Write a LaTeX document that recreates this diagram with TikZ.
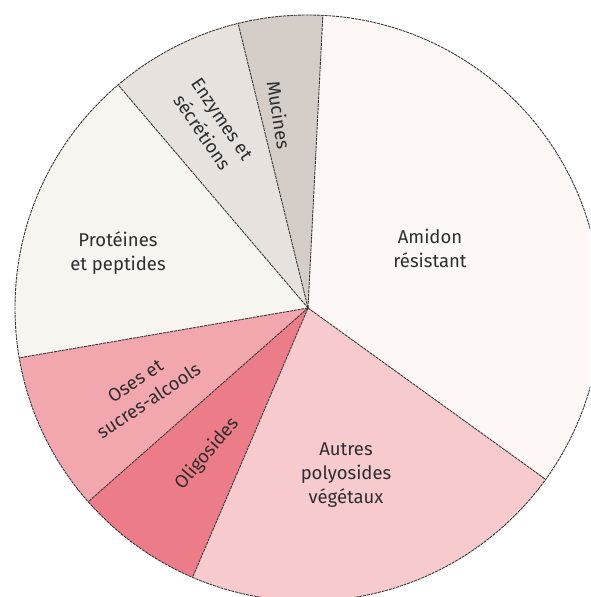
\documentclass[tikz,border=0pt]{standalone}
\usepackage{fontspec}
\setmainfont{Fira Sans}
\usetikzlibrary{calc}
\definecolor{cAmidon}{HTML}{FDF7F5}
\definecolor{cAutres}{HTML}{F7CBCE}
\definecolor{cOligo}{HTML}{EC7C88}
\definecolor{cOses}{HTML}{F2A7AF}
\definecolor{cProt}{HTML}{F7F5F0}
\definecolor{cEnz}{HTML}{E7E2DD}
\definecolor{cMuc}{HTML}{D5CDC7}
\definecolor{cLine}{HTML}{3A3A3A}
\definecolor{cText}{HTML}{2E2E2E}
\tikzset{
  border/.style={draw=cLine, line width=0.9pt, dash pattern=on 3pt off 0.8pt},
  lbl/.style={text=cText, align=center, inner sep=0pt, font=\fontsize{18.5}{24}\selectfont}
}
\newcommand{\slice}[3]{%
  \fill[#1] (O) -- ($(O)+(#2:293)$) arc[start angle=#2, end angle=#3, radius=293] -- cycle;}
\begin{document}
\begin{tikzpicture}[x=1pt,y=1pt]
\useasboundingbox (0,0) rectangle (590,597);
\clip (0,0) rectangle (590,597);
\fill[white] (0,0) rectangle (590,597);
\coordinate (O) at (308,289);
% slices
\slice{cAmidon}{-35.8}{87.1}
\slice{cMuc}{87.1}{103.8}
\slice{cEnz}{103.8}{130.4}
\slice{cProt}{130.4}{189.8}
\slice{cOses}{189.8}{221.4}
\slice{cOligo}{221.4}{246.8}
\slice{cAutres}{246.8}{324.2}
% boundaries
\coordinate (b1) at ($(O)+(87.1:293)$);
\coordinate (b2) at ($(O)+(103.8:293)$);
\coordinate (b3) at ($(O)+(130.4:293)$);
\coordinate (b4) at ($(O)+(189.8:293)$);
\coordinate (b5) at ($(O)+(221.4:293)$);
\coordinate (b6) at ($(O)+(246.8:293)$);
\coordinate (b7) at ($(O)+(-35.8:293)$);
\foreach \b in {b1,b2,b3,b4,b5,b6,b7} \draw[border] (O) -- (\b);
\draw[border] (O) circle[radius=293];
% labels
\node[lbl] (amidon) at (430,348.5) {Amidon\\résistant};
\node[lbl] (autres) at (346,122) {Autres\\polyosides\\végétaux};
\node[lbl] (prot) at (118,343.5) {Protéines\\et peptides};
\node[lbl, rotate=-56] (enz) at (212,471) {Enzymes et\\sécrétions};
\node[lbl, rotate=-81] (muc) at (279,482) {Mucines};
\node[lbl, rotate=33.5] (oses) at (142,206) {Oses et\\sucres-alcools};
\node[lbl, rotate=49.5] (oligo) at (207,143) {Oligosides};
\end{tikzpicture}
\end{document}
